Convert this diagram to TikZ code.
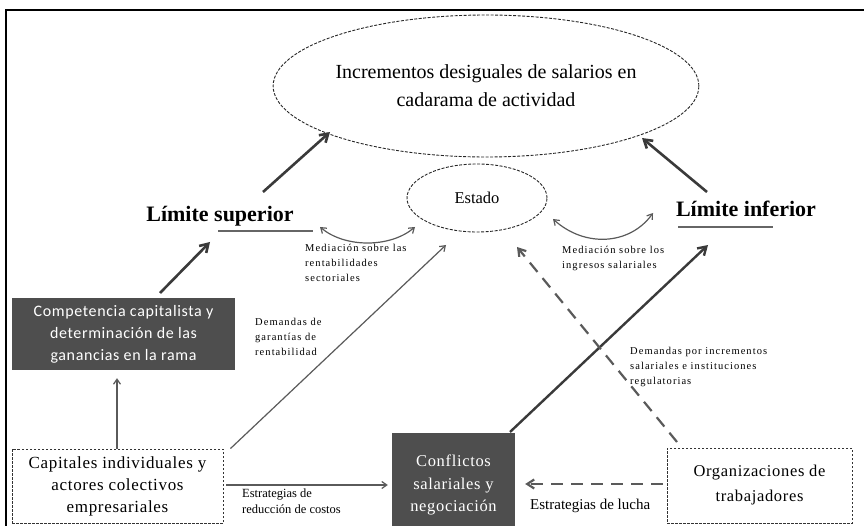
\documentclass[tikz,border=0pt]{standalone}
\usepackage{fontspec}
\setmainfont{Liberation Serif}
\newfontfamily\calib[LetterSpace=4]{Carlito}
\newfontfamily\lblfont[LetterSpace=10]{Liberation Serif}
\newfontfamily\boxfont[LetterSpace=4]{Liberation Serif}
\usetikzlibrary{arrows.meta,shapes.geometric}
\definecolor{boxdark}{HTML}{4E4E4E}
\definecolor{arrdark}{HTML}{3A3A3A}
\definecolor{arrgray}{HTML}{5A5A5A}
\begin{document}
\begin{tikzpicture}[x=1pt,y=-1pt,
  dashedell/.style={draw=black!85, dash pattern=on 3pt off 1.5pt, line width=0.9pt, ellipse, inner sep=0pt},
  darkbox/.style={draw=none, fill=boxdark, text=white, align=center, inner sep=0pt},
  dashbox/.style={draw=black!80, dash pattern=on 2.5pt off 1.5pt, line width=0.9pt, align=center, inner sep=0pt},
  thickarr/.style={draw=arrdark, line width=2.6pt, -{Straight Barb[length=8pt,width=10pt]}},
  thinarr/.style={draw=arrgray, line width=1.2pt, -{Straight Barb[length=5pt,width=7pt]}},
  dasharr/.style={draw=arrgray, line width=2.2pt, dash pattern=on 12pt off 8pt, -{Straight Barb[length=7pt,width=9pt]}},
  smalllbl/.style={font=\lblfont\fontsize{10.5}{15}\selectfont, align=left, anchor=north west, inner sep=0pt},
  midlbl/.style={font=\fontsize{12.5}{16}\selectfont, align=left, anchor=north west, inner sep=0pt},
  limite/.style={font=\fontsize{22}{24}\selectfont\bfseries, inner sep=0pt},
  uline/.style={draw=black!60, line width=1.6pt}
]
\useasboundingbox (0,0) rectangle (864,526);
\draw[line width=1.6pt] (6,530) -- (6,10) -- (870,10);

% nodes
\node[dashedell, minimum width=352pt, minimum height=142pt, align=center,
      font=\fontsize{20}{28}\selectfont] (res) at (486,86)
  {Incrementos desiguales de salarios en\\cadarama de actividad};
\node[dashedell, minimum width=140pt, minimum height=68pt, font=\fontsize{16.5}{18}\selectfont] (est) at (477,198) {Estado};
\node[limite] (lsup) at (220,216) {Límite superior};
\node[limite] (linf) at (746,209) {Límite inferior};
\coordinate (lsupA) at (218,231); \coordinate (lsupB) at (313,231);
\coordinate (linfA) at (678,227); \coordinate (linfB) at (773,227);
\draw[uline] (lsupA) -- (lsupB);
\draw[uline] (linfA) -- (linfB);

\node[darkbox, minimum width=223pt, minimum height=72pt, font=\calib\fontsize{16}{22}\selectfont] (comp) at (123.5,334)
  {Competencia capitalista y\\determinación de las\\ganancias en la rama};
\node[dashbox, minimum width=211pt, minimum height=74pt, font=\boxfont\fontsize{17}{22}\selectfont] (cap) at (117.5,486)
  {Capitales individuales y\\actores colectivos\\empresariales};
\node[darkbox, minimum width=123pt, minimum height=97pt] (conf) at (453.5,481.5) {};
\node[text=white, align=center, font=\boxfont\fontsize{16.5}{22.5}\selectfont, inner sep=0pt] (conft) at (453.5,485)
  {Conflictos\\salariales y\\negociación};
\node[dashbox, minimum width=185pt, minimum height=75pt, font=\boxfont\fontsize{16.5}{25}\selectfont] (org) at (759.5,485.5)
  {Organizaciones de\\trabajadores};

% connector endpoints
\coordinate (p1) at (263,192); \coordinate (p1t) at (330,132);
\coordinate (p2) at (707,192); \coordinate (p2t) at (642,138);
\coordinate (p3) at (160,293); \coordinate (p3t) at (210,242);
\coordinate (p4t) at (446,245);
\coordinate (p5) at (510,432); \coordinate (p5t) at (708,245);
\coordinate (p6) at (677,442); \coordinate (p6t) at (517,247);

\draw[thickarr] (p1) -- (p1t);
\draw[thickarr] (p2) -- (p2t);
\draw[thickarr] (p3) -- (p3t);
\draw[thinarr] (cap.north -| 117,0) -- ([yshift=-8pt]comp.south -| 117,0);
\draw[thinarr] (cap.north east) ++(7,0) -- (p4t);
\draw[thinarr] (cap.east |- 0,485) ++(3,0) -- ([xshift=-4pt]conf.west |- 0,485);
\draw[draw=arrdark, line width=2.4pt, -{Straight Barb[length=8pt,width=10pt]}] (p5) -- (p5t);
\draw[dasharr] (p6) -- (p6t);
\draw[dasharr] ([xshift=-4pt]org.west |- 0,484) -- ([xshift=10pt]conf.east |- 0,484);

% curved double arrows
\coordinate (c1a) at (320,227); \coordinate (c1b) at (415,227);
\draw[draw=arrgray, line width=1.2pt, {Straight Barb[length=5pt,width=7pt]}-{Straight Barb[length=5pt,width=7pt]}]
  (c1a) .. controls (345,248) and (390,248) .. (c1b);
\coordinate (c2a) at (553,219); \coordinate (c2b) at (653,213);
\draw[draw=arrgray, line width=1.2pt, {Straight Barb[length=5pt,width=7pt]}-{Straight Barb[length=5pt,width=7pt]}]
  (c2a) .. controls (585,248) and (630,245) .. (c2b);

% labels
\node[smalllbl] (l1) at (305,244) {Mediación sobre las\\rentabilidades\\sectoriales};
\node[smalllbl] (l2) at (562,246) {Mediación sobre los\\ingresos salariales};
\node[smalllbl] (l3) at (255,318) {Demandas de\\garantías de\\rentabilidad};
\node[smalllbl] (l4) at (630,347) {Demandas por incrementos\\salariales e instituciones\\regulatorias};
\node[midlbl] (l5) at (242,489) {Estrategias de\\reducción de costos};
\node[midlbl, font=\fontsize{15}{18}\selectfont] (l6) at (530,499) {Estrategias de lucha};
\end{tikzpicture}
\end{document}
